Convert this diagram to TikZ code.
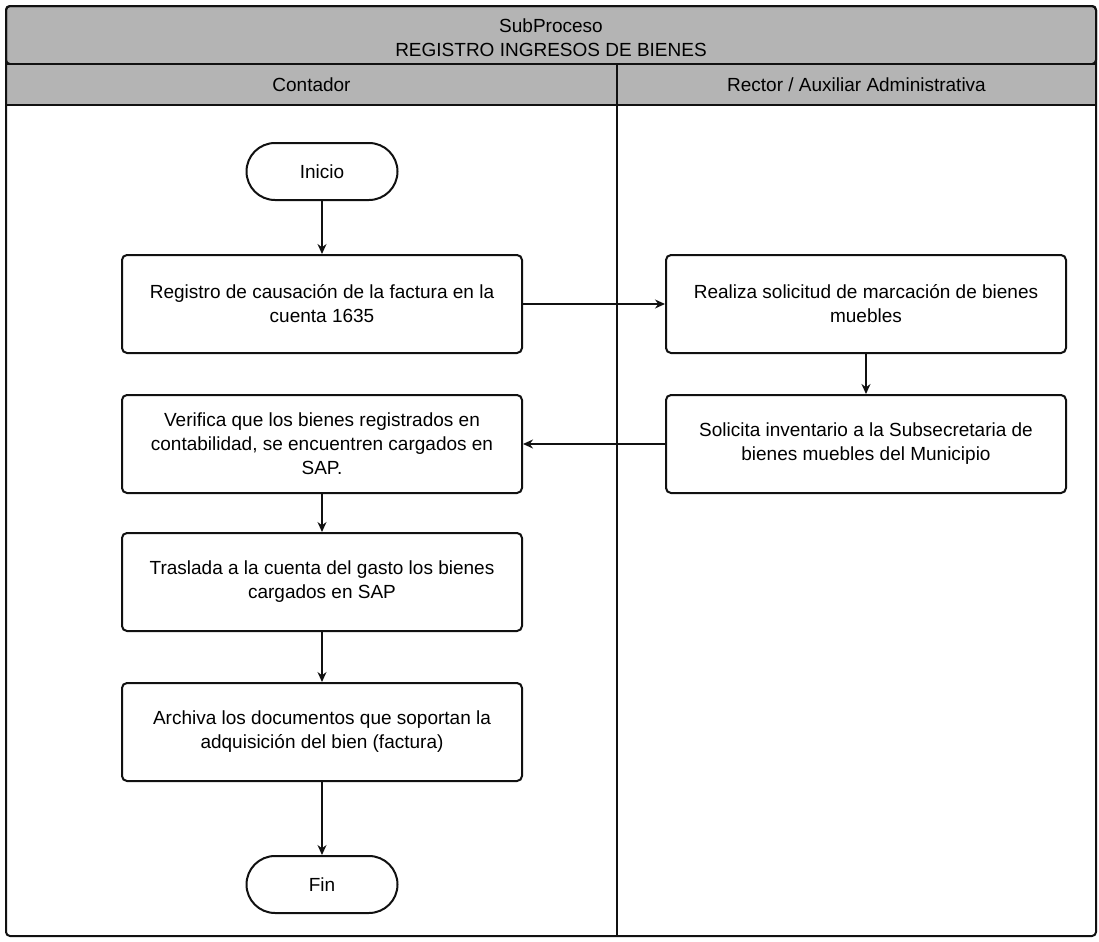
\documentclass[tikz,border=0pt]{standalone}
\usepackage{fontspec}
\setmainfont{Liberation Sans}
\usetikzlibrary{arrows.meta,positioning}
\definecolor{Trama}{HTML}{B4B4B4}
\definecolor{Linea}{HTML}{111111}

\begin{document}
\begin{tikzpicture}[x=0.5pt,y=-0.5pt,
    font=\fontsize{9.5}{12}\selectfont,
    proceso/.style={draw=Linea,line width=1pt,fill=white,rounded corners=2.5pt,minimum width=200pt,minimum height=49pt,align=center,inner sep=2pt},
    terminal/.style={draw=Linea,line width=1pt,fill=white,rounded corners=14.25pt,minimum width=75.5pt,minimum height=28.5pt,align=center},
    encabezado/.style={draw=Linea,line width=1pt,fill=Trama},
    flecha/.style={-{Stealth[length=5pt,width=4.5pt]},line width=0.7pt,draw=Linea}]
    \useasboundingbox (0,0) rectangle (1099,942);
    % marco y carriles
    \draw[encabezado,rounded corners=2pt] (6,6) rectangle (1096,64);
    \draw[encabezado] (6,64) rectangle (617,105);
    \draw[encabezado] (617,64) rectangle (1096,105);
    \draw[Linea,line width=1pt,rounded corners=2pt] (6,6) rectangle (1096,936);
    \draw[Linea,line width=0.8pt] (617,105) -- (617,936);
    \node[align=center] (titulo) at (551,38) {SubProceso\\REGISTRO INGRESOS DE BIENES};
    \node (contador) at (311.5,85) {Contador};
    \node (rector) at (856.5,85) {Rector / Auxiliar Administrativa};
    % flujo
    \node[terminal] (inicio) at (322,171.5) {Inicio};
    \node[proceso,below=26.5pt of inicio] (registro) {Registro de causación de la factura en la\\cuenta 1635};
    \node[proceso,right=71pt of registro] (realiza) {Realiza solicitud de marcación de bienes\\muebles};
    \node[proceso,below=20pt of realiza] (solicita) {Solicita inventario a la Subsecretaria de\\bienes muebles del Municipio};
    \node[proceso,below=20pt of registro] (verifica) {Verifica que los bienes registrados en\\contabilidad, se encuentren cargados en\\SAP.};
    \node[proceso,below=19pt of verifica] (traslada) {Traslada a la cuenta del gasto los bienes\\cargados en SAP};
    \node[proceso,below=25pt of traslada] (archiva) {Archiva los documentos que soportan la\\adquisición del bien (factura)};
    \node[terminal,below=36.5pt of archiva] (fin) {Fin};
    \draw[flecha] (inicio) -- (registro);
    \draw[flecha] (registro) -- (realiza);
    \draw[flecha] (realiza) -- (solicita);
    \draw[flecha] (solicita) -- (verifica);
    \draw[flecha] (verifica) -- (traslada);
    \draw[flecha] (traslada) -- (archiva);
    \draw[flecha] (archiva) -- (fin);
\end{tikzpicture}
\end{document}
